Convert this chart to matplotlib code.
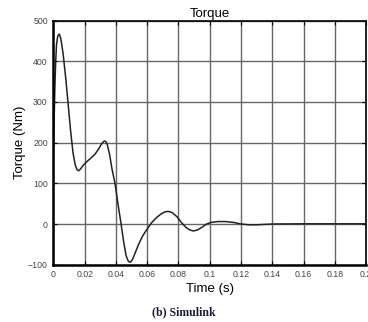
import numpy as np
import matplotlib
matplotlib.use("Agg")
import matplotlib.pyplot as plt

# valores (tiempo en s, par en Nm)
time_s = [0.0000, 0.0005, 0.0010, 0.0015, 0.0020, 0.0028, 0.0038, 0.0048,
          0.0062, 0.0080, 0.0094, 0.0110, 0.0126, 0.0140, 0.0152, 0.0162,
          0.0175, 0.0190, 0.0210, 0.0240, 0.0267, 0.0290, 0.0310, 0.0325,
          0.0335, 0.0345, 0.0360, 0.0375, 0.0394, 0.0413, 0.0433, 0.0450,
          0.0465, 0.0480, 0.0492, 0.0505, 0.0520, 0.0545, 0.0570, 0.0600,
          0.0630, 0.0660, 0.0690, 0.0715, 0.0735, 0.0760, 0.0790, 0.0820,
          0.0850, 0.0875, 0.0895, 0.0920, 0.0950, 0.0980, 0.1010, 0.1050,
          0.1100, 0.1150, 0.1200, 0.1250, 0.1300, 0.1350, 0.1400, 0.1600,
          0.1800, 0.2000]
torque_nm = [165, 260, 340, 400, 440, 462, 467, 455,
             420, 355, 297, 230, 174, 145, 133, 131,
             136, 144, 152, 162, 172, 185, 198, 204,
             203, 195, 170, 135, 100, 50, 0, -45,
             -78, -92, -94, -88, -74, -50, -30, -12,
             4, 16, 25, 30, 31, 28, 18, 3,
             -9, -15, -17, -15, -8, 0, 4, 6,
             6, 4, 0, -2, -2, -1, 0, 0.5,
             0.5, 0.5]

x_ticks = [0, 0.02, 0.04, 0.06, 0.08, 0.1, 0.12, 0.14, 0.16, 0.18, 0.2]
x_tick_labels = ["0", "0.02", "0.04", "0.06", "0.08", "0.1", "0.12",
                 "0.14", "0.16", "0.18", "0.2"]
y_ticks = [-100, 0, 100, 200, 300, 400, 500]

plt.rcParams["font.family"] = ["Liberation Sans", "DejaVu Sans"]

fig = plt.figure(figsize=(3.68, 3.22), dpi=100)
ax = fig.add_axes([0.145, 0.178, 0.85, 0.758])

ax.plot(time_s, torque_nm, color="#222222", linewidth=1.1)

ax.set_xlim(0, 0.2)
ax.set_ylim(-100, 500)
ax.set_xticks(x_ticks)
ax.set_xticklabels(x_tick_labels)
ax.set_yticks(y_ticks)
ax.grid(True, color="#666666", linewidth=1.0)
ax.tick_params(direction="in", length=3, labelsize=6.3, labelcolor="#444444",
               top=True, right=True, pad=4)

for side in ["left", "bottom"]:
    ax.spines[side].set_linewidth(1.8)
for side in ["top", "right"]:
    ax.spines[side].set_linewidth(1.2)

ax.set_title("Torque", fontsize=9.5, pad=2.5)
ax.set_xlabel("Time (s)", fontsize=9.5, labelpad=3)
ax.set_ylabel("Torque (Nm)", fontsize=9.5, labelpad=1.5)

fig.text(0.5, 0.02, "(b) Simulink", ha="center", fontsize=8.5,
         family="Liberation Serif", weight="bold", color="#1a1a33")

fig.savefig("out.png", dpi=100)
